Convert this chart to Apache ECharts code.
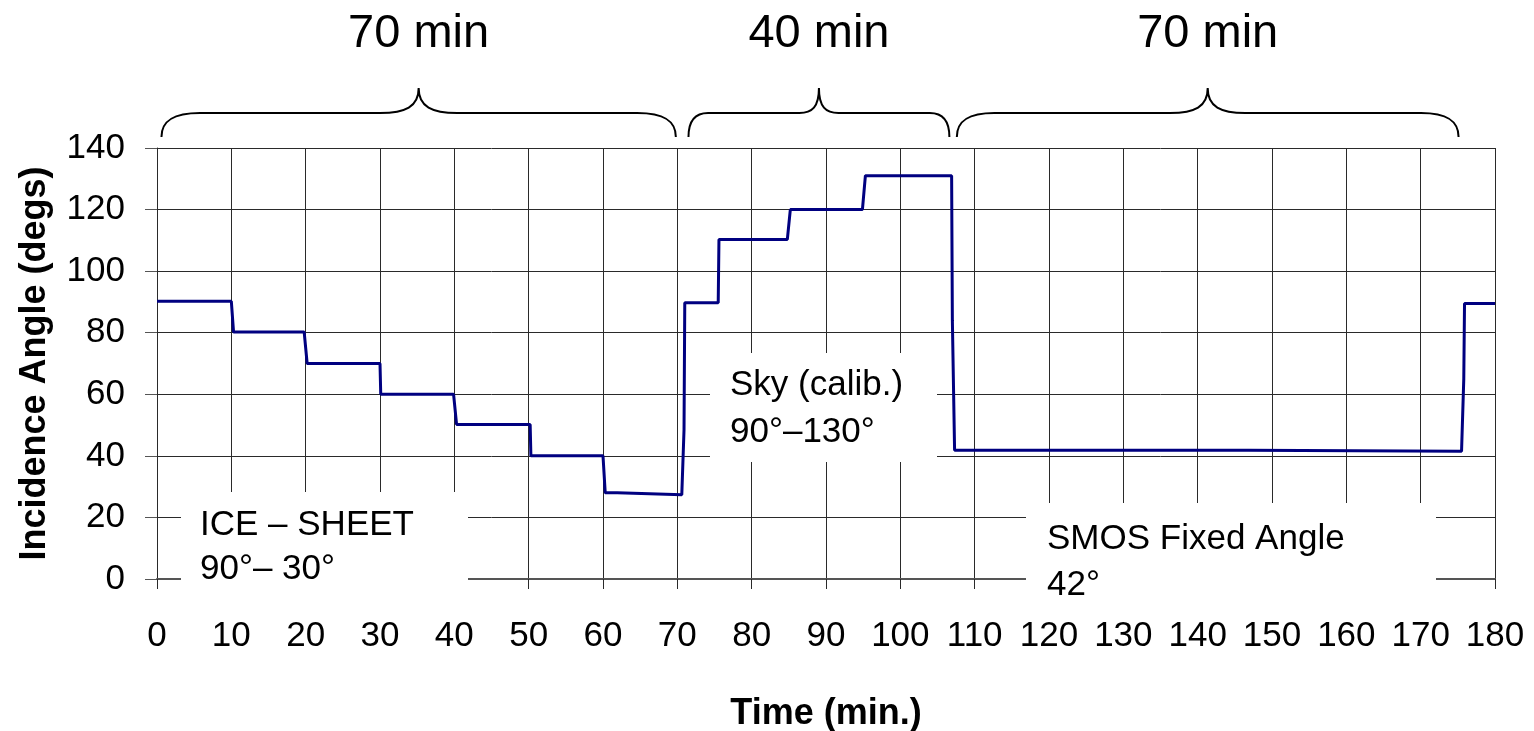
<!DOCTYPE html>
<html>
<head>
<meta charset="utf-8">
<style>
html,body{margin:0;padding:0;background:#fff;}
#chart{width:1534px;height:731px;}
</style>
<script src="https://cdn.jsdelivr.net/npm/echarts@6/dist/echarts.min.js"></script>
</head>
<body>
<div id="chart"></div>
<script>
// ---- data ----
const times  = [0, 10.0, 10.3, 19.8, 20.2, 30.0, 30.1, 39.9, 40.3, 50.2, 50.3, 60.0, 60.3, 61.9, 62.0, 70.6, 70.9, 71.0, 75.5, 75.6, 84.8, 85.2, 94.9, 95.3, 106.9, 107.0, 107.3, 146.8, 146.9, 175.5, 175.8, 175.9, 180];
const angles = [90.2, 90.2, 80.2, 80.2, 70, 70, 60, 60, 50.2, 50.2, 40, 40, 28, 28, 27.4, 27.4, 48.5, 89.7, 89.7, 110.3, 110.3, 120, 120, 131, 131, 84, 41.8, 41.8, 41.5, 41.5, 65, 89.5, 89.5];
const braceStarts = [0.6, 71.5, 107.6];
const braceEnds   = [69.8, 106.6, 175.1];
const braceLabels = ['70 min', '40 min', '70 min'];
const xName = 'Time (min.)';
const yName = 'Incidence Angle (degs)';
const boxTexts = [
  ['ICE – SHEET', '90°– 30°'],
  ['Sky (calib.)', '90°–130°'],
  ['SMOS Fixed Angle', '42°']
];

const FONT = "'Liberation Sans', Arial, sans-serif";
const lineData = times.map((t, i) => [t, angles[i]]);
const braceData = braceStarts.map((s, i) => [s, braceEnds[i], 140, i]);

const chart = echarts.init(document.getElementById('chart'), null, {renderer: 'canvas'});

function boxGraphic(x, y, w, h, tx, centers, lines) {
  const children = [{
    type: 'rect', shape: {x: x, y: y, width: w, height: h},
    style: {fill: '#fff'}, z: 100
  }];
  lines.forEach((ln, i) => {
    children.push({
      type: 'text', z: 101,
      style: {x: tx, y: centers[i], text: ln, font: '35px ' + FONT, fill: '#000',
              textAlign: 'left', textVerticalAlign: 'middle', verticalAlign: 'middle'}
    });
  });
  return children;
}

const graphics = [].concat(
  boxGraphic(181, 492, 287, 110, 200, [525.5, 569.5], boxTexts[0]),
  boxGraphic(710, 353, 227, 109, 730, [385.5, 432], boxTexts[1]),
  boxGraphic(1026, 503, 410, 108, 1047, [539, 585], boxTexts[2])
);

const option = {
  animation: false,
  backgroundColor: '#fff',
  grid: {left: 157, right: 39, top: 148, bottom: 152, containLabel: false, outerBoundsMode: 'none'},
  xAxis: [{
    type: 'value', min: 0, max: 180, interval: 10,
    name: xName, nameLocation: 'middle', nameGap: 117,
    nameTextStyle: {fontFamily: FONT, fontSize: 36, fontWeight: 'bold', color: '#000'},
    axisLine: {show: true, onZero: false, lineStyle: {color: '#2a2a2a', width: 1}},
    axisTick: {show: true, length: 10, lineStyle: {color: '#2a2a2a', width: 1}},
    axisLabel: {fontFamily: FONT, fontSize: 35, color: '#000', margin: 40},
    splitLine: {show: true, lineStyle: {color: '#2a2a2a', width: 1}}
  }, {
    type: 'value', position: 'top', min: 0, max: 180, interval: 10,
    axisLine: {show: true, lineStyle: {color: '#555', width: 2}},
    axisTick: {show: false}, axisLabel: {show: false}, splitLine: {show: false}
  }],
  yAxis: {
    type: 'value', min: 0, max: 140, interval: 20,
    name: yName, nameLocation: 'middle', nameGap: 104, nameRotate: 90,
    nameTextStyle: {fontFamily: FONT, fontSize: 36, fontWeight: 'bold', color: '#000'},
    axisLine: {show: true, lineStyle: {color: '#2a2a2a', width: 1}},
    axisTick: {show: true, length: 12, lineStyle: {color: '#555', width: 1}},
    axisLabel: {fontFamily: FONT, fontSize: 35, color: '#000', margin: 32},
    splitLine: {show: true, lineStyle: {color: '#2a2a2a', width: 1}}
  },
  series: [{
    type: 'line', data: lineData, xAxisIndex: 0, showSymbol: false, symbol: 'none',
    lineStyle: {color: '#000080', width: 3}, z: 5, clip: false
  }, {
    type: 'custom', xAxisIndex: 0, clip: false, z: 10,
    data: braceData,
    encode: {x: [0, 1], y: 2},
    renderItem: function (params, api) {
      const p1 = api.coord([api.value(0), 140]);
      const p2 = api.coord([api.value(1), 140]);
      const top = params.coordSys.y;
      const x1 = p1[0], x2 = p2[0], xm = (x1 + x2) / 2;
      const yb = top - 11, yh = top - 35, yt = top - 60;
      const r = (x2 - x1) * 0.075;
      const d = [
        'M', x1, yb,
        'C', x1, yh + 8, x1 + r * 0.3, yh, x1 + r, yh,
        'L', xm - r, yh,
        'C', xm - r * 0.35, yh, xm, yh - 6, xm, yt,
        'C', xm, yh - 6, xm + r * 0.35, yh, xm + r, yh,
        'L', x2 - r, yh,
        'C', x2 - r * 0.3, yh, x2, yh + 8, x2, yb
      ].join(' ');
      return {
        type: 'group',
        children: [{
          type: 'path', shape: {pathData: d},
          style: {stroke: '#000', lineWidth: 2, fill: null}
        }, {
          type: 'text',
          style: {x: xm, y: top - 114, text: braceLabels[api.value(3)],
                  font: '47px ' + FONT, fill: '#000',
                  textAlign: 'center', textVerticalAlign: 'middle', verticalAlign: 'middle'}
        }]
      };
    }
  }],
  graphic: graphics
};
chart.setOption(option);
</script>
</body>
</html>
